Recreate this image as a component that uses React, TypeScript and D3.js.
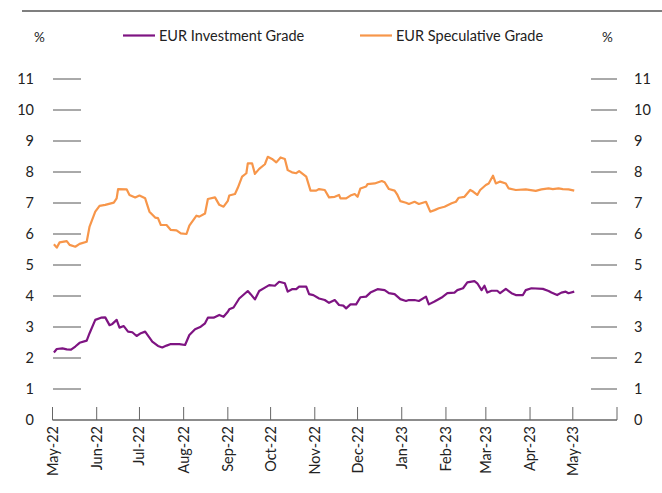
import React from "react";
import * as d3 from "d3";

const seriesNames = ["EUR Investment Grade", "EUR Speculative Grade"];
const seriesColors = ["#7e1482", "#f7964a"];
const yTicks = [0, 1, 2, 3, 4, 5, 6, 7, 8, 9, 10, 11];
const monthTicks = [
  "2022-05-01", "2022-06-01", "2022-07-01", "2022-08-01", "2022-09-01", "2022-10-01",
  "2022-11-01", "2022-12-01", "2023-01-01", "2023-02-01", "2023-03-01", "2023-04-01",
  "2023-05-01", "2023-06-01",
];
const monthLabels = [
  "May-22", "Jun-22", "Jul-22", "Aug-22", "Sep-22", "Oct-22", "Nov-22", "Dec-22",
  "Jan-23", "Feb-23", "Mar-23", "Apr-23", "May-23",
];

const investmentGrade: [string, number][] = [
  ["2022-05-02", 2.18], ["2022-05-04", 2.29], ["2022-05-08", 2.31], ["2022-05-11", 2.28],
  ["2022-05-14", 2.27], ["2022-05-17", 2.37], ["2022-05-20", 2.49], ["2022-05-25", 2.56],
  ["2022-05-27", 2.8], ["2022-05-31", 3.23], ["2022-06-04", 3.3], ["2022-06-07", 3.31],
  ["2022-06-10", 3.06], ["2022-06-12", 3.1], ["2022-06-15", 3.23], ["2022-06-17", 2.98],
  ["2022-06-20", 3.03], ["2022-06-23", 2.85], ["2022-06-26", 2.83], ["2022-06-29", 2.71],
  ["2022-07-02", 2.8], ["2022-07-05", 2.85], ["2022-07-08", 2.66], ["2022-07-10", 2.53],
  ["2022-07-14", 2.39], ["2022-07-17", 2.34], ["2022-07-20", 2.4], ["2022-07-23", 2.45],
  ["2022-07-29", 2.45], ["2022-08-02", 2.42], ["2022-08-05", 2.74], ["2022-08-09", 2.93],
  ["2022-08-13", 3.01], ["2022-08-16", 3.12], ["2022-08-18", 3.3], ["2022-08-22", 3.3],
  ["2022-08-26", 3.39], ["2022-08-29", 3.33], ["2022-09-01", 3.49], ["2022-09-02", 3.57],
  ["2022-09-05", 3.63], ["2022-09-09", 3.92], ["2022-09-15", 4.16], ["2022-09-17", 4.06],
  ["2022-09-20", 3.89], ["2022-09-23", 4.16], ["2022-09-27", 4.27], ["2022-09-30", 4.35],
  ["2022-10-04", 4.33], ["2022-10-07", 4.46], ["2022-10-11", 4.41], ["2022-10-13", 4.14],
  ["2022-10-16", 4.22], ["2022-10-19", 4.22], ["2022-10-21", 4.3], ["2022-10-26", 4.3],
  ["2022-10-28", 4.06], ["2022-10-31", 4.03], ["2022-11-04", 3.92], ["2022-11-08", 3.87],
  ["2022-11-11", 3.78], ["2022-11-15", 3.87], ["2022-11-18", 3.71], ["2022-11-21", 3.69],
  ["2022-11-23", 3.6], ["2022-11-26", 3.73], ["2022-11-30", 3.73], ["2022-12-03", 3.96],
  ["2022-12-07", 3.98], ["2022-12-10", 4.11], ["2022-12-15", 4.22], ["2022-12-20", 4.19],
  ["2022-12-23", 4.09], ["2022-12-27", 4.06], ["2022-12-31", 3.9], ["2023-01-04", 3.84],
  ["2023-01-06", 3.87], ["2023-01-10", 3.87], ["2023-01-13", 3.84], ["2023-01-18", 3.98],
  ["2023-01-20", 3.73], ["2023-01-24", 3.82], ["2023-01-29", 3.95], ["2023-02-02", 4.09],
  ["2023-02-07", 4.11], ["2023-02-09", 4.19], ["2023-02-13", 4.25], ["2023-02-16", 4.44],
  ["2023-02-21", 4.48], ["2023-02-23", 4.41], ["2023-02-26", 4.19], ["2023-02-28", 4.33],
  ["2023-03-02", 4.11], ["2023-03-05", 4.17], ["2023-03-09", 4.17], ["2023-03-11", 4.09],
  ["2023-03-15", 4.23], ["2023-03-19", 4.09], ["2023-03-22", 4.03], ["2023-03-27", 4.03],
  ["2023-03-29", 4.19], ["2023-04-02", 4.25], ["2023-04-10", 4.23], ["2023-04-14", 4.16],
  ["2023-04-16", 4.11], ["2023-04-20", 4.03], ["2023-04-23", 4.11], ["2023-04-26", 4.14],
  ["2023-04-28", 4.09], ["2023-05-02", 4.14],
];

const speculativeGrade: [string, number][] = [
  ["2022-05-02", 5.67], ["2022-05-04", 5.56], ["2022-05-06", 5.73], ["2022-05-11", 5.77],
  ["2022-05-13", 5.65], ["2022-05-17", 5.59], ["2022-05-20", 5.68], ["2022-05-25", 5.75],
  ["2022-05-27", 6.24], ["2022-05-31", 6.72], ["2022-06-03", 6.91], ["2022-06-07", 6.94],
  ["2022-06-13", 7.01], ["2022-06-15", 7.15], ["2022-06-16", 7.45], ["2022-06-22", 7.44],
  ["2022-06-24", 7.26], ["2022-06-28", 7.18], ["2022-07-01", 7.24], ["2022-07-05", 7.15],
  ["2022-07-08", 6.72], ["2022-07-12", 6.53], ["2022-07-14", 6.51], ["2022-07-16", 6.29],
  ["2022-07-20", 6.29], ["2022-07-23", 6.13], ["2022-07-27", 6.12], ["2022-07-30", 6.02],
  ["2022-08-03", 6.0], ["2022-08-05", 6.27], ["2022-08-10", 6.59], ["2022-08-12", 6.56],
  ["2022-08-16", 6.66], ["2022-08-18", 7.13], ["2022-08-23", 7.18], ["2022-08-26", 6.94],
  ["2022-08-29", 6.88], ["2022-09-01", 7.07], ["2022-09-02", 7.24], ["2022-09-06", 7.29],
  ["2022-09-08", 7.49], ["2022-09-11", 7.85], ["2022-09-14", 7.96], ["2022-09-15", 8.28],
  ["2022-09-18", 8.28], ["2022-09-20", 7.94], ["2022-09-23", 8.1], ["2022-09-27", 8.25],
  ["2022-09-29", 8.49], ["2022-10-02", 8.42], ["2022-10-05", 8.31], ["2022-10-08", 8.47],
  ["2022-10-11", 8.42], ["2022-10-13", 8.06], ["2022-10-16", 7.99], ["2022-10-19", 7.96],
  ["2022-10-21", 8.03], ["2022-10-26", 7.85], ["2022-10-29", 7.4], ["2022-11-02", 7.4],
  ["2022-11-04", 7.45], ["2022-11-08", 7.42], ["2022-11-11", 7.18], ["2022-11-15", 7.2],
  ["2022-11-18", 7.26], ["2022-11-19", 7.15], ["2022-11-23", 7.15], ["2022-11-26", 7.24],
  ["2022-11-29", 7.29], ["2022-12-01", 7.2], ["2022-12-03", 7.47], ["2022-12-07", 7.53],
  ["2022-12-08", 7.61], ["2022-12-13", 7.63], ["2022-12-18", 7.71], ["2022-12-20", 7.67],
  ["2022-12-23", 7.45], ["2022-12-27", 7.4], ["2022-12-29", 7.26], ["2022-12-31", 7.06],
  ["2023-01-04", 7.01], ["2023-01-06", 6.97], ["2023-01-10", 7.04], ["2023-01-13", 6.97],
  ["2023-01-18", 7.04], ["2023-01-21", 6.72], ["2023-01-24", 6.77], ["2023-01-27", 6.83],
  ["2023-01-31", 6.88], ["2023-02-05", 6.99], ["2023-02-08", 7.04], ["2023-02-10", 7.17],
  ["2023-02-14", 7.2], ["2023-02-18", 7.42], ["2023-02-20", 7.37], ["2023-02-23", 7.26],
  ["2023-02-25", 7.42], ["2023-03-01", 7.58], ["2023-03-03", 7.63], ["2023-03-06", 7.88],
  ["2023-03-08", 7.63], ["2023-03-11", 7.69], ["2023-03-15", 7.63], ["2023-03-17", 7.47],
  ["2023-03-22", 7.42], ["2023-03-29", 7.44], ["2023-04-05", 7.39], ["2023-04-09", 7.44],
  ["2023-04-14", 7.47], ["2023-04-17", 7.45], ["2023-04-21", 7.47], ["2023-04-24", 7.45],
  ["2023-04-28", 7.44], ["2023-05-02", 7.4],
];

const W = 662;
const H = 493;
const FONT = "Lato, 'Liberation Sans', Arial, sans-serif";

export default function App() {
  const parse = d3.timeParse("%Y-%m-%d");
  const ticks = monthTicks.map((s) => parse(s) as Date);
  const x = d3.scaleTime().domain([ticks[0], ticks[ticks.length - 1]]).range([52.5, 617]);
  const y = d3.scaleLinear().domain([0, 11]).range([420, 79]);
  const line = d3
    .line<[string, number]>()
    .x((d) => x(parse(d[0]) as Date))
    .y((d) => y(d[1]));
  const series = [investmentGrade, speculativeGrade];
  const legendX = [123, 360];

  return (
    <svg
      width={W}
      height={H}
      viewBox={`0 0 ${W} ${H}`}
      style={{ position: "absolute", left: 0, top: 0, background: "#fff", fontFamily: FONT }}
    >
      <rect width={W} height={H} fill="#fff" />
      <line x1={22} x2={W} y1={11} y2={11} stroke="#7f7f7f" strokeWidth={2} />
      <text x={34} y={42} fontSize={13.5} fill="#222">%</text>
      <text x={602} y={42} fontSize={13.5} fill="#222">%</text>
      {seriesNames.map((n, i) => (
        <g key={n}>
          <line x1={legendX[i]} x2={legendX[i] + 32} y1={35.5} y2={35.5} stroke={seriesColors[i]} strokeWidth={2.2} />
          <text x={legendX[i] + 36} y={41} fontSize={14.5} fill="#222">{n}</text>
        </g>
      ))}
      {yTicks.map((t) => (
        <g key={t}>
          {t > 0 && (
            <>
              <line x1={53} x2={81} y1={y(t)} y2={y(t)} stroke="#555" strokeWidth={1} />
              <line x1={591} x2={617} y1={y(t)} y2={y(t)} stroke="#555" strokeWidth={1} />
            </>
          )}
          <text x={34} y={y(t) + 5} fontSize={14.5} textAnchor="end" fill="#222">{t}</text>
          <text x={634} y={y(t) + 5} fontSize={14.5} textAnchor="start" fill="#222">{t}</text>
        </g>
      ))}
      <line x1={x(ticks[0])} x2={x(ticks[ticks.length - 1])} y1={y(0)} y2={y(0)} stroke="#666" strokeWidth={1.3} />
      {ticks.map((t, i) => (
        <line key={i} x1={x(t)} x2={x(t)} y1={y(0) - 13} y2={y(0)} stroke="#666" strokeWidth={1} />
      ))}
      {monthLabels.map((lab, i) => (
        <text
          key={lab}
          transform={`translate(${x(ticks[i]) + 5},${y(0) + 6}) rotate(-90)`}
          fontSize={14.5}
          textAnchor="end"
          fill="#222"
        >
          {lab}
        </text>
      ))}
      {series.map((s, i) => (
        <path key={i} d={line(s) || ""} fill="none" stroke={seriesColors[i]} strokeWidth={2.2} strokeLinejoin="round" />
      ))}
    </svg>
  );
}
